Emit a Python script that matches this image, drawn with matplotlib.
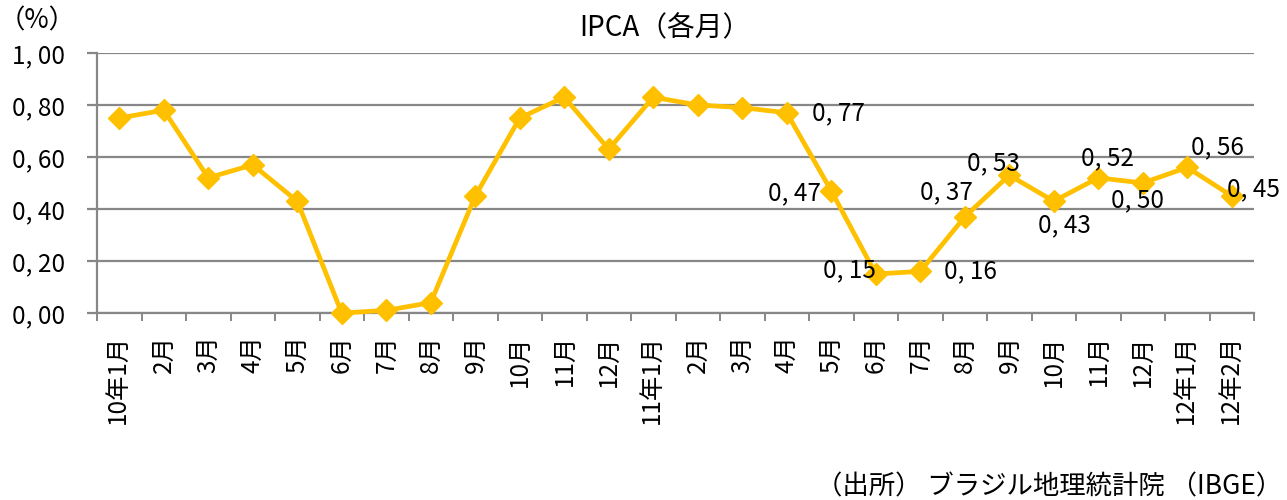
import matplotlib
matplotlib.use("Agg")
import matplotlib.pyplot as plt
import numpy as np

plt.rcParams['font.family'] = ['Noto Sans CJK JP', 'DejaVu Sans']

# data
months = ["10年1月", "2月", "3月", "4月", "5月", "6月", "7月", "8月", "9月", "10月", "11月", "12月",
          "11年1月", "2月", "3月", "4月", "5月", "6月", "7月", "8月", "9月", "10月", "11月", "12月",
          "12年1月", "12年2月"]
ipca = [0.75, 0.78, 0.52, 0.57, 0.43, 0.00, 0.01, 0.04, 0.45, 0.75, 0.83, 0.63,
        0.83, 0.80, 0.79, 0.77, 0.47, 0.15, 0.16, 0.37, 0.53, 0.43, 0.52, 0.50,
        0.56, 0.45]
yticks = [0.0, 0.2, 0.4, 0.6, 0.8, 1.0]

# data label placement (index: dx px, dy px, ha)
label_pos = {15: (25, 0, 'left'), 16: (-10, -2, 'right'), 17: (0, 4, 'right'),
             18: (24, 0, 'left'), 19: (-18, 25, 'center'), 20: (-16, 12, 'center'),
             21: (11, -24, 'center'), 22: (9, 20, 'center'), 23: (-5, -17, 'center'),
             24: (30, 20, 'center'), 25: (-5, 7, 'left')}

def fmt(v):
    return f"{v:.2f}".replace('.', ', ')

gold = '#FFC000'
grid_c = '#878787'
fs = 17.5

fig = plt.figure(figsize=(12.87, 5), dpi=100)
ax = fig.add_axes([97/1287, 1-313/500, (1254-97)/1287, 260/500])

x = np.arange(len(ipca))
ax.plot(x, ipca, color=gold, lw=3.4, marker='D', ms=11, mec=gold, mfc=gold, zorder=3, clip_on=False)

for i, (dx, dy, ha) in label_pos.items():
    ax.annotate(fmt(ipca[i]), (x[i], ipca[i]), xytext=(dx, dy), textcoords='offset pixels',
                ha=ha, va='center', fontsize=fs, zorder=4)

ax.set_xlim(-0.5, len(ipca)-0.5)
ax.set_ylim(0, 1.0)
ax.set_yticks(yticks)
ax.set_yticklabels([fmt(v) for v in yticks], fontsize=fs)
ax.yaxis.grid(True, color=grid_c, lw=1.6)
ax.set_axisbelow(True)

ax.set_xticks(x)
ax.set_xticklabels(months, rotation=90, fontsize=fs, va='top', ha='center')
ax.set_xticks(np.arange(-0.5, len(ipca)), minor=True)
ax.tick_params(axis='x', which='major', length=0, pad=16)
ax.tick_params(axis='x', which='minor', length=6, color=grid_c, width=1.4)
ax.tick_params(axis='y', length=7, color=grid_c, width=1.6, pad=16)

for s in ['top', 'right']:
    ax.spines[s].set_visible(False)
for s in ['left', 'bottom']:
    ax.spines[s].set_color(grid_c)
    ax.spines[s].set_linewidth(1.6)

fig.text(665/1287, 1-28/500, "IPCA（各月）", ha='center', va='center', fontsize=20)
fig.text(37/1287, 1-21/500, "（%）", ha='center', va='center', fontsize=19)
fig.text(1282/1287, 1-487/500, "（出所） ブラジル地理統計院 （IBGE）", ha='right', va='center', fontsize=19)

fig.savefig('out.png', dpi=100)
